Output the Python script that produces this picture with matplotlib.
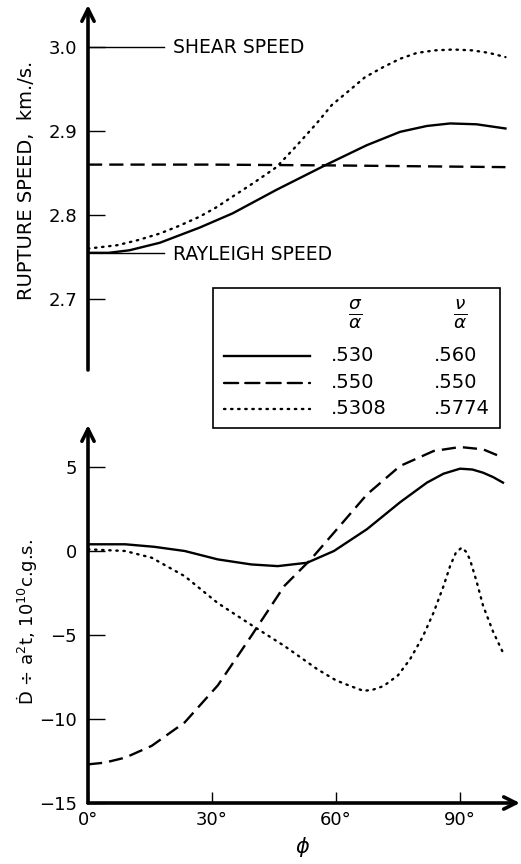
import numpy as np
import matplotlib
matplotlib.use("Agg")
import matplotlib.pyplot as plt

plt.rcParams['font.family'] = ['DejaVu Sans']
plt.rcParams['mathtext.fontset'] = 'dejavusans'

# rupture speed (km/s) vs phi (deg)
phi_solid_top = [0, 5, 10, 17.4, 27, 35, 45.6, 57.7, 67.4, 75.5, 82, 87.6, 94, 101]
v_solid = [2.755, 2.755, 2.758, 2.767, 2.785, 2.802, 2.830, 2.860, 2.883, 2.899, 2.906, 2.909, 2.908, 2.903]
phi_dash_top = [0, 30, 60, 101]
v_dash = [2.860, 2.860, 2.859, 2.857]
phi_dot_top = [0, 7, 12, 17.4, 22, 27, 31, 35, 40, 45.6, 50, 55.3, 59, 63.4, 67, 71.4, 75.5, 79.6, 84, 88.4, 93, 97, 101]
v_dot = [2.760, 2.764, 2.770, 2.778, 2.787, 2.798, 2.809, 2.822, 2.838, 2.857, 2.880, 2.909, 2.931, 2.949, 2.964, 2.976, 2.986, 2.993, 2.996, 2.997, 2.996, 2.993, 2.988]

# D-dot / a^2 t vs phi
phi_solid_bot = [0, 9, 16, 23.4, 31.4, 39.5, 45.9, 53, 59.5, 67.5, 75.5, 82, 86, 90, 93, 95.6, 98, 100.4]
d_solid = [0.4, 0.4, 0.25, 0.0, -0.5, -0.8, -0.9, -0.7, 0.0, 1.3, 2.9, 4.07, 4.6, 4.9, 4.85, 4.66, 4.4, 4.07]
phi_dash_bot = [0, 4, 9, 15.4, 23.4, 31.4, 39.5, 47.5, 53.9, 59.5, 67.5, 75.5, 83.6, 90, 95.6, 100.4]
d_dash = [-12.7, -12.6, -12.3, -11.6, -10.2, -8.0, -5.06, -2.08, -0.5, 1.09, 3.37, 5.06, 5.95, 6.19, 6.05, 5.56]
phi_dot_bot = [0, 9, 15.4, 23.4, 31.4, 39.5, 47.5, 55.5, 60, 63.5, 66.7, 69, 71.5, 75, 77.9, 81, 83.6, 86, 87.6, 89, 90.4, 91.5, 92.4, 94, 95.6, 98, 100.4]
d_dot = [0.1, 0.0, -0.4, -1.5, -3.1, -4.4, -5.65, -7.04, -7.7, -8.04, -8.33, -8.25, -8.04, -7.4, -6.45, -5.1, -3.67, -2.1, -0.9, -0.1, 0.2, -0.05, -0.5, -1.8, -3.27, -4.8, -6.05]

legend_sigma = ['.530', '.550', '.5308']
legend_nu = ['.560', '.550', '.5774']
styles = ['solid', (0, (6, 3)), (0, (0.6, 2.4))]

W, H = 521, 864
fig = plt.figure(figsize=(W / 100, H / 100), dpi=100)

x0 = 88
x_per_deg = (460 - 88) / 90.0
xmax = 104
ax_w = xmax * x_per_deg

def fx(px):
    return px / W

def fy(py):
    return 1 - py / H

# top axes: y pixels 5 .. 370
ax1 = fig.add_axes([fx(x0), fy(370), ax_w / W, 365 / H])
ax1.set_xlim(0, xmax)
ax1.set_ylim(2.6155, 3.05)
# bottom axes: y pixels 425 .. 803
ax2 = fig.add_axes([fx(x0), fy(803), ax_w / W, 378 / H])
ax2.set_xlim(0, xmax)
ax2.set_ylim(-15, 7.5)

lw = 1.7
ax1.plot(phi_solid_top, v_solid, color='black', lw=lw, linestyle=styles[0])
ax1.plot(phi_dash_top, v_dash, color='black', lw=lw, linestyle=styles[1])
ax1.plot(phi_dot_top, v_dot, color='black', lw=lw, linestyle=styles[2], dash_capstyle='round')

ax2.plot(phi_solid_bot, d_solid, color='black', lw=lw, linestyle=styles[0])
ax2.plot(phi_dash_bot, d_dash, color='black', lw=lw, linestyle=styles[1])
ax2.plot(phi_dot_bot, d_dot, color='black', lw=lw, linestyle=styles[2], dash_capstyle='round')

for ax in (ax1, ax2):
    for s in ['top', 'right', 'bottom', 'left']:
        ax.spines[s].set_visible(False)
    ax.patch.set_alpha(0)

fs = 13
arrow = dict(arrowstyle='->', lw=2.6, color='black', mutation_scale=22, shrinkA=0, shrinkB=0)
# top axis
ax1.annotate('', xy=(0, 3.05), xytext=(0, 2.6155), arrowprops=arrow, annotation_clip=False)
ax1.set_xticks([])
ax1.set_yticks([2.7, 2.8, 2.9, 3.0])
ax1.set_yticklabels(['2.7', '2.8', '2.9', '3.0'], fontsize=fs)
ax1.tick_params(axis='y', direction='in', length=12, width=1, pad=8)
ax1.plot([0, 18.5], [3.0, 3.0], color='black', lw=1, clip_on=False)
ax1.text(20.5, 3.0, 'SHEAR SPEED', fontsize=13.5, va='center', ha='left')
ax1.plot([0, 18.5], [2.755, 2.755], color='black', lw=1, clip_on=False)
ax1.text(20.5, 2.753, 'RAYLEIGH SPEED', fontsize=13.5, va='center', ha='left')
ax1.set_ylabel('RUPTURE SPEED,  km./s.', fontsize=14)
ax1.yaxis.set_label_coords(-0.12, 0.52)

# bottom axis
ax2.annotate('', xy=(0, 7.5), xytext=(0, -15), arrowprops=arrow, annotation_clip=False)
ax2.annotate('', xy=(104.5, -15), xytext=(0, -15), arrowprops=arrow, annotation_clip=False)
ax2.set_yticks([-15, -10, -5, 0, 5])
ax2.set_yticklabels(['\u221215', '\u221210', '\u22125', '0', '5'], fontsize=fs)
ax2.tick_params(axis='y', direction='in', length=12, width=1, pad=8)
ax2.set_xticks([0, 30, 60, 90])
ax2.set_xticklabels(['0\u00b0', '30\u00b0', '60\u00b0', '90\u00b0'], fontsize=fs)
ax2.tick_params(axis='x', direction='in', length=8, width=1, pad=6)
ax2.set_xlabel(r'$\phi$', fontsize=15, labelpad=4)
ax2.set_ylabel('\u1e0a \u00f7 a$^2$t, 10$^{10}$c.g.s.', fontsize=13)
ax2.yaxis.set_label_coords(-0.115, 0.48)

# legend box (figure pixels)
lx0, lx1, ly0, ly1 = 213, 500, 288, 428
fig.patches.append(plt.Rectangle((fx(lx0), fy(ly1)), (lx1 - lx0) / W, (ly1 - ly0) / H,
                                 transform=fig.transFigure, fill=True, facecolor='white',
                                 edgecolor='black', lw=1.2, zorder=5))
fig.text(fx(355), fy(314), r'$\frac{\sigma}{\alpha}$', fontsize=19, ha='center', va='center', zorder=6)
fig.text(fx(460), fy(314), r'$\frac{\nu}{\alpha}$', fontsize=19, ha='center', va='center', zorder=6)
row_y = [356, 383, 409]
for i in range(3):
    ln = plt.Line2D([fx(224), fx(310)], [fy(row_y[i]), fy(row_y[i])], transform=fig.transFigure,
                    color='black', lw=lw, linestyle=styles[i], dash_capstyle='round', zorder=6)
    fig.lines.append(ln)
    fig.text(fx(331), fy(row_y[i]), legend_sigma[i], fontsize=14, ha='left', va='center', zorder=6)
    fig.text(fx(434), fy(row_y[i]), legend_nu[i], fontsize=14, ha='left', va='center', zorder=6)

fig.savefig('out.png', dpi=100)
